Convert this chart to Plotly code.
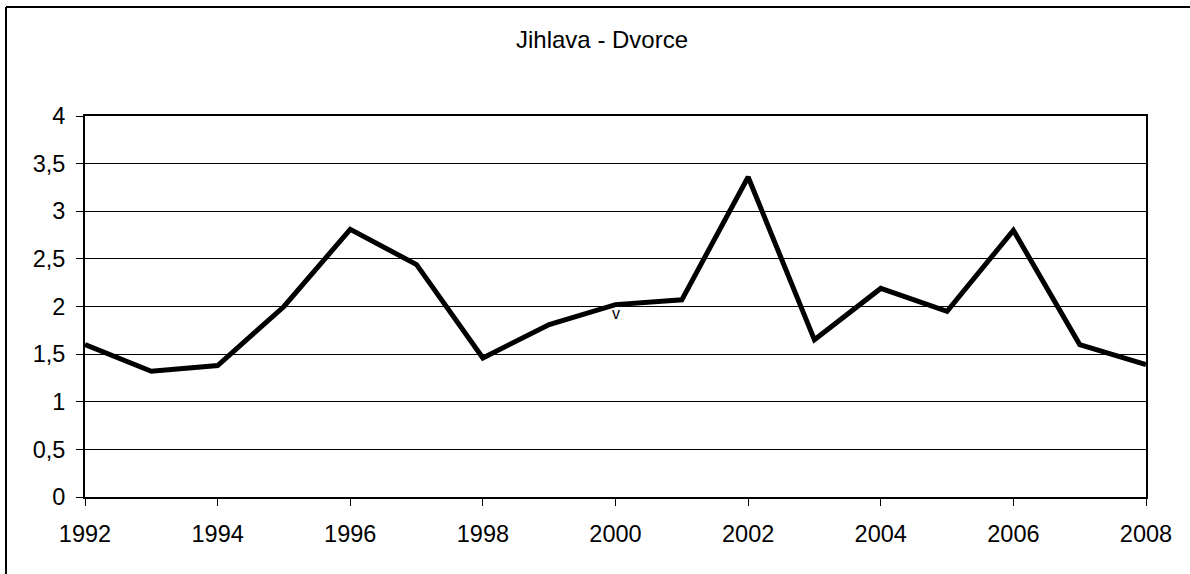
import plotly.graph_objects as go

years = list(range(1992, 2009))
values = [1.60, 1.32, 1.38, 2.00, 2.81, 2.44, 1.46, 1.81, 2.02, 2.07, 3.36,
          1.65, 2.19, 1.95, 2.80, 1.60, 1.39]
title_text = "Jihlava - Dvorce"

FONT = "Liberation Sans, Arial, sans-serif"

fig = go.Figure()
fig.add_trace(go.Scatter(
    x=years, y=values, mode="lines",
    line=dict(color="black", width=5),
    hoverinfo="skip", showlegend=False, cliponaxis=False,
))

fig.add_annotation(x=2000, y=values[years.index(2000)], xref="x", yref="y",
                   text="v", showarrow=False, yshift=-9, xshift=0,
                   font=dict(family=FONT, size=16, color="black"))

fig.add_annotation(x=(602 - 85) / 1061, y=(497 - 39) / 381, xref="paper", yref="paper",
                   text=title_text, showarrow=False, xanchor="center", yanchor="middle",
                   font=dict(family=FONT, size=24, color="black"))

# outer chart-area border (only top and left edges are visible)
bx = (6 - 85) / 1061
by = (497 - 7) / 381
fig.add_shape(type="line", xref="paper", yref="paper",
              x0=bx, x1=(1200 - 85) / 1061, y0=by, y1=by,
              line=dict(color="black", width=2), layer="below")
fig.add_shape(type="line", xref="paper", yref="paper",
              x0=bx, x1=bx, y0=(497 - 590) / 381, y1=by,
              line=dict(color="black", width=2), layer="below")

fig.update_layout(
    width=1190, height=574,
    margin=dict(l=85, r=44, t=116, b=77),
    paper_bgcolor="white", plot_bgcolor="white",
    separators=", ",
    font=dict(family=FONT, size=24, color="black"),
    showlegend=False,
)
fig.update_xaxes(
    range=[1992, 2008], dtick=2, tick0=1992,
    showgrid=False, zeroline=False,
    showline=True, linecolor="black", linewidth=2, mirror=True,
    ticks="outside", ticklen=7, tickcolor="black", tickwidth=1,
    ticklabelstandoff=8,
    tickfont=dict(family=FONT, size=23.5, color="black"),
)
fig.update_yaxes(
    range=[0, 4], dtick=0.5, tick0=0,
    showgrid=True, gridcolor="black", gridwidth=1, zeroline=False,
    showline=True, linecolor="black", linewidth=2, mirror=True,
    ticks="outside", ticklen=7, tickcolor="black", tickwidth=1,
    ticklabelstandoff=6,
    tickfont=dict(family=FONT, size=23.5, color="black"),
)

fig.write_html("out.html")
